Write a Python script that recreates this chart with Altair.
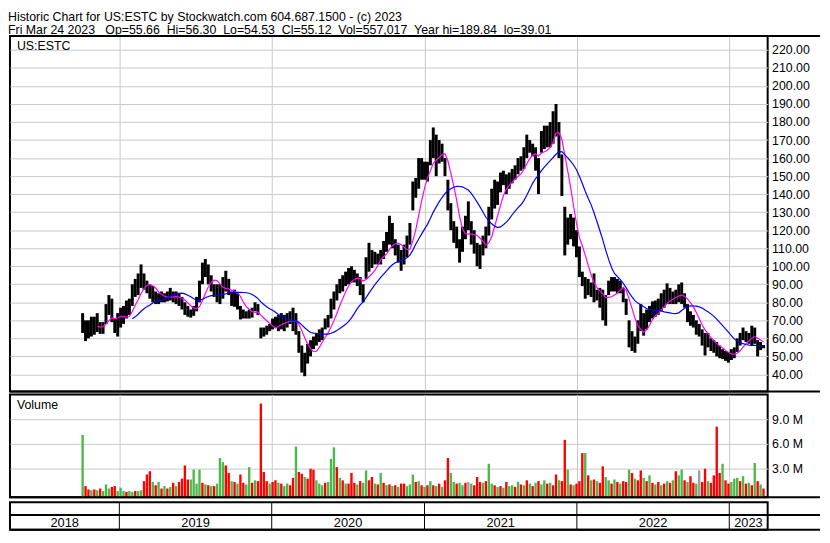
import altair as alt
import pandas as pd

# ---------------- text ----------------
TITLE_1 = "Historic Chart for US:ESTC by Stockwatch.com 604.687.1500 - (c) 2023"
TITLE_2 = ("Fri Mar 24 2023\u00a0\u00a0\u00a0Op=55.66\u00a0\u00a0Hi=56.30\u00a0\u00a0Lo=54.53\u00a0\u00a0"
           "Cl=55.12\u00a0\u00a0Vol=557,017\u00a0\u00a0Year hi=189.84\u00a0\u00a0lo=39.01")
SYMBOL = "US:ESTC"
VOLUME_LABEL = "Volume"

# ---------------- data (weekly) ----------------
first_week = "2018-10-05"

week_hi = [
    74, 70, 70, 72, 72, 74, 69, 69, 79, 84,
    82, 71, 74, 77, 78, 81, 82, 90, 93, 96,
    101, 96, 92, 90, 89, 86, 85, 86, 85, 86,
    88, 86, 86, 85, 83, 80, 78, 76, 78, 83,
    92, 102, 104, 101, 95, 90,
    90, 90, 94, 97.5, 93, 86, 87, 85, 78, 76,
    75, 76, 77, 80, 79, 66, 66, 67, 68, 71,
    72, 73, 74, 73, 74, 75, 77, 74, 64, 56,
    52, 57, 59, 61, 63, 65, 66, 71, 73, 82,
    86, 90, 93, 95, 97, 99, 100, 98, 96,
    94, 90, 105, 113, 109, 108, 107, 109, 114, 119,
    128, 124, 115, 112, 109, 112, 117, 124, 147, 149,
    160, 160, 158, 158, 170, 177, 173, 170, 168, 160,
    148, 135, 125, 122, 115, 122, 128, 136, 125, 120,
    113, 112, 117, 122, 133, 143, 148,
    147, 152, 153, 151, 152, 154, 156, 160, 161, 166,
    173, 170, 168, 166, 160, 175, 178, 178, 180, 186,
    190, 180, 162, 133, 127, 129, 127, 120, 111, 97,
    94, 93, 91, 96, 87, 88, 87, 84, 92, 94,
    94, 93, 92, 88, 82, 70, 64,
    61, 70, 79, 74, 76, 78, 80.5, 81, 82, 85,
    87, 90.5, 88, 86, 87, 90, 91, 85, 79, 75,
    73, 70, 68, 65, 63, 63, 60, 59, 58, 56,
    54, 53, 52.5, 54, 55, 60, 63, 66, 64, 63,
    67, 66, 59, 58, 56.3,
]

week_lo = [
    63, 58.5, 60, 61, 62, 63.5, 62.5, 62.5, 68, 73,
    69, 63, 61, 66, 68, 71, 73, 78, 83, 84,
    88, 87, 85, 82, 80, 79, 79, 80, 80, 80.5,
    81, 80, 79, 78, 76, 73, 72, 71.5, 72.5, 75,
    80, 90, 94, 90, 86, 83,
    80, 79, 82, 86, 84, 78, 77.5, 76, 70.5, 71,
    71, 71, 71.5, 75, 73, 60, 61, 62, 64, 65,
    66, 64, 65, 64, 66, 68, 64, 62, 52, 41,
    39, 46, 50, 54, 56, 58, 59, 65, 66, 71,
    76, 81, 85, 86, 89, 90, 91, 91, 89,
    84, 80, 93, 97, 99, 101, 101, 101, 104, 108,
    112, 110, 106, 102, 97.5, 101, 105, 112, 131, 138,
    143, 148, 148, 147, 156, 160, 150, 157, 158, 150,
    131, 120, 113, 110, 102, 108, 115, 120, 112, 107,
    100, 98.5, 106, 110, 117, 126, 132,
    134, 141, 145, 140, 143, 146, 148, 151, 153, 154,
    160, 163, 161, 153, 140, 163, 165, 166, 166, 168,
    172, 160, 139, 106, 112, 115, 111, 105, 94, 89,
    82, 84, 83, 80, 81, 77, 70, 67, 84, 86,
    86, 85, 85, 80, 73, 55, 53,
    52, 57, 64, 61.5, 65, 69, 71, 72, 73, 75,
    77, 79, 79, 79, 79, 80, 79, 77, 69, 67,
    66, 62, 61, 56, 50.5, 55, 53, 52, 50, 49,
    48.5, 47.5, 46.5, 48, 49, 52.5, 56, 59, 58, 57,
    56, 57, 50, 53.5, 54.5,
]

# volume in millions of shares
week_vol = [
    7.1, 0.9, 0.5, 0.4, 0.5, 0.4, 0.6, 0.3, 1.1, 0.6,
    0.8, 0.9, 0.3, 0.7, 0.3, 0.2, 0.3, 0.2, 0.3, 0.3,
    0.4, 1.5, 2.3, 2.7, 1.4, 1.0, 1.4, 0.6, 0.9, 0.6,
    0.8, 1.3, 0.9, 1.4, 1.8, 3.4, 1.7, 1.7, 2.9, 1.2,
    2.9, 1.3, 1.1, 1.0, 0.9, 0.9, 1.2, 4.3, 3.8, 3.4,
    2.5, 1.5, 1.4, 1.2, 2.3, 1.3, 1.1, 3.2, 1.3, 1.6,
    1.5, 10.9, 2.6, 1.5, 1.2, 1.4, 1.6, 1.3, 1.2, 0.9,
    1.2, 1.0, 1.9, 5.7, 2.6, 2.4, 2.0, 1.8, 3.0, 2.9,
    1.6, 1.2, 1.0, 1.3, 1.4, 4.2, 5.6, 3.2, 1.9, 1.6,
    1.2, 1.2, 2.5, 1.3, 1.1, 1.5, 1.3, 2.8, 1.6, 2.0,
    1.2, 1.1, 2.5, 1.3, 1.0, 1.1, 0.9, 1.0, 0.8, 1.2,
    1.2, 0.9, 1.1, 2.3, 1.4, 1.5, 1.0, 0.8, 1.0, 1.5,
    1.0, 0.9, 1.2, 0.8, 1.6, 4.3, 2.5, 1.4, 1.2, 1.3,
    1.0, 1.3, 1.4, 1.2, 1.0, 2.0, 1.4, 1.3, 1.5, 3.6,
    1.2, 1.0, 0.8, 0.9, 0.7, 1.4, 0.9, 1.0, 0.8, 1.4,
    1.1, 1.0, 1.6, 1.2, 0.9, 1.3, 1.5, 1.1, 1.6, 1.2,
    1.3, 1.0, 2.3, 1.6, 1.5, 6.5, 2.9, 1.1, 1.0, 1.2,
    1.5, 4.9, 4.9, 2.2, 1.6, 1.7, 1.5, 1.3, 3.3, 2.0,
    1.6, 1.2, 1.7, 1.4, 1.2, 1.5, 1.4, 2.9, 2.5, 1.8,
    1.6, 2.8, 1.9, 1.5, 2.2, 1.3, 1.1, 1.4, 1.0, 1.2,
    1.5, 1.3, 1.6, 2.7, 2.2, 2.9, 1.6, 1.4, 2.1, 1.3,
    1.2, 2.8, 1.4, 3.0, 1.5, 1.3, 2.2, 8.1, 2.5, 3.6,
    1.6, 1.2, 1.4, 1.8, 1.9, 1.5, 2.1, 1.2, 1.3, 1.0,
    3.7, 1.5, 1.1, 0.6,
]

# G = up day (green), R = down day (red), N = unchanged (grey)
week_dir = list(
    "GRRGRGRGGG" "RRGGGRGGRG" "GRRRGRGRGR" "GRGRRRRGGG" "GRGRGRGGGR"
    "RGRGRRGGRG" "RRRRGRRGRG" "GRRGRRGRRR" "GGGRGGGRGR" "GRRRGRGGRR"
    "GRGRGRGRGR" "RGGGRGRGRG" "RGRGRRGGRG" "GRNGRRRGRG" "GRGRGRGGRG"
    "RGRGRGRGGR" "GRRGRRGRGR" "RRGRGRGRRG" "GRGRGRRGRG" "RRGRGRGRGR"
    "GRGRGGRGRR" "GNRRGRRRRG" "RRGGGRGRGR" "GRGR"
)

price_ticks = list(range(40, 221, 10))
volume_ticks = [3, 6, 9]
years = ["2018", "2019", "2020", "2021", "2022", "2023"]
year_lines = ["2019-01-01", "2020-01-01", "2021-01-01", "2022-01-01", "2023-01-01"]
x_start = "2018-04-14"
x_end = "2023-04-03"

# ---------------- tables ----------------
dates = pd.date_range(first_week, periods=len(week_hi), freq="7D").strftime("%Y-%m-%d")
price_df = pd.DataFrame({"date": dates, "hi": week_hi, "lo": week_lo})
vol_df = pd.DataFrame({"date": dates, "vol": week_vol, "dir": week_dir})
year_df = pd.DataFrame({
    "year": years,
    "start": [x_start] + year_lines,
    "end": year_lines + [x_end],
})
lines_df = pd.DataFrame({"d": year_lines})

# ---------------- layout ----------------
FONT = "Liberation Sans"
GRID = "#c8c8c8"
W = 767
H1, H2, H3 = 360, 104, 28
ROW1 = 13
LABEL_COL = 53


def dt(s):
    y, m, d = (int(v) for v in s.split("-"))
    return alt.DateTime(year=y, month=m, date=d, utc=True)


x_scale = alt.Scale(type="utc", domain=[dt(x_start), dt(x_end)])
x_axis = alt.Axis(values=[dt(s) for s in year_lines], grid=True, gridColor=GRID, gridWidth=1,
                  labels=False, ticks=False, domain=False, title=None)


def X(field):
    return alt.X(field, scale=x_scale, axis=x_axis)


price_scale = alt.Scale(domain=[30.5, 227.8], nice=False, zero=False)
price_axis = alt.Axis(orient="right", values=price_ticks, format=".2f", grid=True, gridColor=GRID,
                      ticks=False, domain=False, labelPadding=4, labelFont=FONT, labelFontSize=12.5,
                      labelColor="black", labelOverlap=False, title=None)

vol_scale = alt.Scale(domain=[-0.45, 12.0], nice=False, zero=False)
vol_axis = alt.Axis(orient="right", values=volume_ticks, labelExpr="format(datum.value, '.1f') + ' M'",
                    grid=True, gridColor=GRID, ticks=False, domain=False, labelPadding=4,
                    labelFont=FONT, labelFontSize=12.5, labelColor="black", title=None)

one = pd.DataFrame({"k": [0]})


def hline(y):
    return alt.Chart(one).mark_rule(color="black", strokeWidth=2).encode(
        x=alt.value(0), x2=alt.value(W + LABEL_COL), y=alt.value(y))


# price panel
base = alt.Chart(price_df)
bars = base.mark_rule(color="black", strokeWidth=3).encode(
    x=X("date:T"), y=alt.Y("lo:Q", scale=price_scale, axis=price_axis), y2="hi:Q")


def moving_average(weeks, color):
    return base.transform_calculate(mid="(datum.hi + datum.lo) / 2").transform_window(
        ma="mean(mid)", row="row_number()", frame=[-(weeks - 1), 0], sort=[{"field": "date"}]
    ).transform_filter(f"datum.row >= {weeks}").mark_line(color=color, strokeWidth=1.2).encode(
        x=X("date:T"), y=alt.Y("ma:Q", scale=price_scale, axis=price_axis))


ma_fast = moving_average(6, "#ff00ff")
ma_slow = moving_average(18, "#0000ff")
sym = alt.Chart(pd.DataFrame({"t": [SYMBOL]})).mark_text(
    align="left", baseline="middle", font=FONT, fontSize=12.5, color="black").encode(
    x=alt.value(7), y=alt.value(10), text="t:N")

price = alt.layer(bars, ma_fast, ma_slow, sym, hline(0), hline(H1)).properties(width=W, height=H1)

# volume panel
vbars = alt.Chart(vol_df).mark_rule(strokeWidth=2.4).encode(
    x=X("date:T"), y=alt.Y("vol:Q", scale=vol_scale, axis=vol_axis), y2=alt.value(H2),
    color=alt.Color("dir:N", scale=alt.Scale(domain=["G", "R", "N"], range=["#4cb84c", "#ff0000", "#a0a0a0"]),
                    legend=None))
vtxt = alt.Chart(pd.DataFrame({"t": [VOLUME_LABEL]})).mark_text(
    align="left", baseline="middle", font=FONT, fontSize=12.5, color="black").encode(
    x=alt.value(7), y=alt.value(11), text="t:N")
volume = alt.layer(vbars, vtxt, hline(H2)).properties(width=W, height=H2)

# year axis panel
ylines = alt.Chart(lines_df).mark_rule(color="black", strokeWidth=1).encode(
    x=alt.X("d:T", scale=x_scale, axis=None), y=alt.value(0), y2=alt.value(H3))
ylabels = alt.Chart(year_df).transform_calculate(
    mid="(+toDate(datum.start) + +toDate(datum.end)) / 2").mark_text(
    font=FONT, fontSize=13, baseline="middle", color="black").encode(
    x=alt.X("mid:T", scale=x_scale, axis=None), y=alt.value(ROW1 + (H3 - ROW1) / 2 + 1), text="year:N")
bottom = alt.layer(ylines, ylabels, hline(ROW1), hline(H3)).properties(width=W, height=H3)

chart = alt.vconcat(price, volume, bottom, spacing=0).properties(
    title=alt.TitleParams(text=[TITLE_1, TITLE_2], anchor="start", font=FONT, fontSize=12.5,
                          fontWeight="normal", lineHeight=13.5, color="black", offset=-3),
    padding=0,
).configure_view(stroke="black", strokeWidth=2)

chart.save("out.html", embed_options={"renderer": "svg", "actions": False})
